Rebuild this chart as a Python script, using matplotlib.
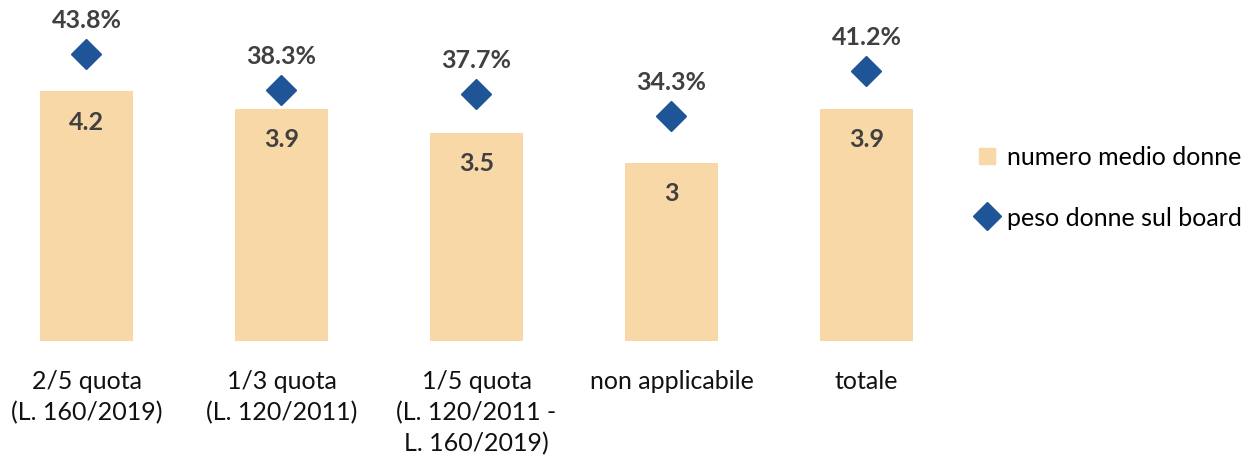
import matplotlib
matplotlib.use("Agg")
import matplotlib.pyplot as plt
from matplotlib.lines import Line2D

plt.rcParams["font.family"] = ["Lato", "DejaVu Sans"]

categories = [
    "2/5 quota\n(L. 160/2019)",
    "1/3 quota\n(L. 120/2011)",
    "1/5 quota\n(L. 120/2011 -\nL. 160/2019)",
    "non applicabile",
    "totale",
]
avg_women = [4.2, 3.9, 3.5, 3, 3.9]
share_women = [43.8, 38.3, 37.7, 34.3, 41.2]

BAR_COLOR = "#F9D8A8"
DIAMOND_COLOR = "#1F5597"
LABEL_COLOR = "#404040"

W, H = 1249, 456
fig = plt.figure(figsize=(W / 100, H / 100), dpi=100)
ax = fig.add_axes([0, (H - 342) / H, 960 / W, 342 / H])
ax2 = ax.twinx()

x = list(range(len(categories)))
ax.bar(x, avg_women, width=0.48, color=BAR_COLOR, zorder=1)
ax.set_xlim((0 - 86.5) / 195, (960 - 86.5) / 195)
ax.set_ylim(0, 342 / 59.5)

for xi, v in zip(x, avg_women):
    ax.annotate(f"{v:g}", (xi, v), xytext=(0, -30), textcoords="offset pixels",
                ha="center", va="center", fontsize=18, fontweight="bold",
                color=LABEL_COLOR)

ax2.plot(x, share_women, linestyle="none", marker="D", markersize=15,
         color=DIAMOND_COLOR, zorder=3)
ax2.set_ylim(0, 342 / 6.55)
for xi, v in zip(x, share_women):
    ax2.annotate(f"{v:.1f}%", (xi, v), xytext=(0, 35), textcoords="offset pixels",
                 ha="center", va="center", fontsize=18, fontweight="bold",
                 color=LABEL_COLOR)

for a in (ax, ax2):
    for s in a.spines.values():
        s.set_visible(False)
    a.set_yticks([])
ax.set_xticks(x)
ax.set_xticklabels(categories, fontsize=18, color="#111111", linespacing=1.42,
                   va="top")
ax.tick_params(axis="x", length=0, pad=20)

handles = [
    Line2D([], [], linestyle="none", marker="s", markersize=12, color=BAR_COLOR),
    Line2D([], [], linestyle="none", marker="D", markersize=14, color=DIAMOND_COLOR),
]
fig.legend(handles, ["numero medio donne", "peso donne sul board"],
           loc="center left", bbox_to_anchor=(957 / W, 1 - 188 / H),
           frameon=False, fontsize=18, labelspacing=1.5, handletextpad=0.2,
           handlelength=1.2, borderaxespad=0.2)

fig.savefig("out.png", dpi=100)
